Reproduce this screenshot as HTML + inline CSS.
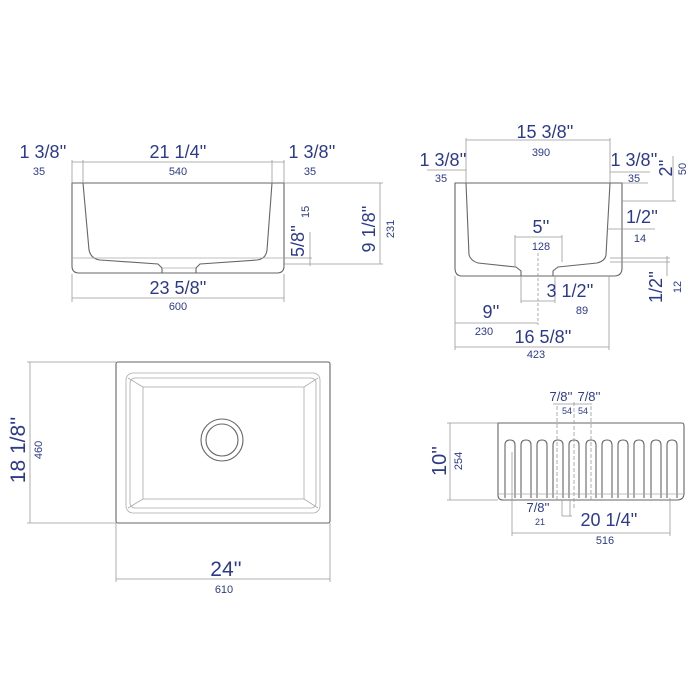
<!DOCTYPE html>
<html><head><meta charset="utf-8"><style>
html,body{margin:0;padding:0;background:#fff}
svg{display:block}
text{font-family:"Liberation Sans",sans-serif;fill:#2d3a8c}
.b{font-size:18px}
.s{font-size:11px}
.d{stroke:#999;stroke-width:0.8;fill:none}
.o{stroke:#666;stroke-width:1.1;fill:none}
.l{stroke:#aaa;stroke-width:0.8;fill:none}
</style></head><body>
<svg width="700" height="700" viewBox="0 0 700 700">
<!-- FRONT VIEW -->
<path class="o" d="M72 183 H284 V266 Q284 273 277 273 H79 Q72 273 72 266 Z"/>
<path class="o" d="M83 183 L89 250 Q91 259 100 260 L158 264 L162 268 V273 M196 273 V268 L200 264 L257 260 Q266 259 267 250 L272 183"/>
<line class="l" x1="72" y1="258" x2="284" y2="258"/>
<line class="l" x1="162" y1="268" x2="196" y2="268"/>
<g class="d">
<line x1="72" y1="162" x2="284" y2="162"/>
<line x1="72" y1="160" x2="72" y2="183"/><line x1="83" y1="160" x2="83" y2="183"/>
<line x1="272" y1="160" x2="272" y2="183"/><line x1="284" y1="160" x2="284" y2="183"/>
<line x1="284" y1="183" x2="383" y2="183"/><line x1="284" y1="264" x2="383" y2="264"/>
<line x1="380" y1="183" x2="380" y2="264"/>
<line x1="310" y1="232" x2="310" y2="266"/><line x1="284" y1="258" x2="312" y2="258"/>
<line x1="72" y1="274" x2="72" y2="302"/><line x1="284" y1="274" x2="284" y2="302"/>
<line x1="72" y1="298" x2="284" y2="298"/>
</g>
<text class="b" x="43" y="158" text-anchor="middle">1 3/8''</text>
<text class="s" x="39" y="175" text-anchor="middle">35</text>
<text class="b" x="178" y="158" text-anchor="middle">21 1/4''</text>
<text class="s" x="178" y="175" text-anchor="middle">540</text>
<text class="b" x="312" y="158" text-anchor="middle">1 3/8''</text>
<text class="s" x="310" y="175" text-anchor="middle">35</text>
<text class="b" transform="translate(375,229) rotate(-90)" text-anchor="middle">9 1/8''</text>
<text class="s" transform="translate(394,229) rotate(-90)" text-anchor="middle">231</text>
<text class="b" transform="translate(304,241) rotate(-90)" text-anchor="middle">5/8''</text>
<text class="s" transform="translate(309,218) rotate(-90)">15</text>
<text class="b" x="178" y="294" text-anchor="middle">23 5/8''</text>
<text class="s" x="178" y="310" text-anchor="middle">600</text>

<!-- SIDE VIEW -->
<path class="o" d="M455 183 H622 V268 Q622 276 614 276 H462 Q455 276 455 268 Z"/>
<path class="o" d="M466 183 L469 255 Q471 261 478 263 L516 267 L521 271 V276 M553 276 V271 L558 267 L597 263 Q605 261 606 255 L610 183"/>
<g class="d">
<line x1="466" y1="140" x2="610" y2="140"/><line x1="466" y1="138" x2="466" y2="183"/><line x1="610" y1="138" x2="610" y2="183"/>
<line x1="427" y1="170" x2="466" y2="170"/>
<line x1="610" y1="172" x2="650" y2="172"/>
<line x1="622" y1="183" x2="648" y2="183"/>
<line x1="622" y1="201" x2="676" y2="201"/><line x1="673" y1="156" x2="673" y2="201"/>
<line x1="607" y1="229" x2="655" y2="229"/>
<line x1="515" y1="237" x2="562" y2="237"/><line x1="515" y1="235" x2="515" y2="266"/><line x1="562" y1="235" x2="562" y2="262"/>
<line x1="610" y1="258" x2="670" y2="258"/><line x1="610" y1="262" x2="670" y2="262"/><line x1="667" y1="256" x2="667" y2="276"/>
<line x1="521" y1="276" x2="521" y2="303"/><line x1="555" y1="276" x2="555" y2="303"/><line x1="521" y1="301" x2="555" y2="301"/>
<line x1="538" y1="253" x2="538" y2="325" stroke-dasharray="3,2"/>
<line x1="455" y1="276" x2="455" y2="350"/><line x1="609" y1="276" x2="609" y2="350"/>
<line x1="455" y1="323" x2="538" y2="323"/>
<line x1="455" y1="347" x2="609" y2="347"/>
</g>
<text class="b" x="545" y="138" text-anchor="middle">15 3/8''</text>
<text class="s" x="541" y="156" text-anchor="middle">390</text>
<text class="b" x="443" y="166" text-anchor="middle">1 3/8''</text>
<text class="s" x="441" y="182" text-anchor="middle">35</text>
<text class="b" x="634" y="166" text-anchor="middle">1 3/8''</text>
<text class="s" x="634" y="182" text-anchor="middle">35</text>
<text class="b" transform="translate(672,168) rotate(-90)" text-anchor="middle">2''</text>
<text class="s" transform="translate(686,169) rotate(-90)" text-anchor="middle">50</text>
<text class="b" x="642" y="223" text-anchor="middle">1/2''</text>
<text class="s" x="640" y="242" text-anchor="middle">14</text>
<text class="b" x="541" y="233" text-anchor="middle">5''</text>
<text class="s" x="541" y="250" text-anchor="middle">128</text>
<text class="b" transform="translate(662,287) rotate(-90)" text-anchor="middle">1/2''</text>
<text class="s" transform="translate(681,287) rotate(-90)" text-anchor="middle">12</text>
<text class="b" x="570" y="297" text-anchor="middle">3 1/2''</text>
<text class="s" x="582" y="314" text-anchor="middle">89</text>
<text class="b" x="491" y="318" text-anchor="middle">9''</text>
<text class="s" x="484" y="335" text-anchor="middle">230</text>
<text class="b" x="543" y="343" text-anchor="middle">16 5/8''</text>
<text class="s" x="536" y="358" text-anchor="middle">423</text>

<!-- TOP VIEW -->
<rect class="o" x="116" y="362" width="214" height="161" rx="2"/>
<rect class="l" x="126" y="373" width="194" height="140" rx="7"/>
<rect class="l" x="130" y="378" width="186" height="130" rx="5"/>
<rect class="l" x="143" y="387" width="161" height="112"/>
<path class="l" d="M128 378 L143 387 M318 378 L304 387 M128 508 L143 499 M318 508 L304 499"/>
<circle class="o" cx="222" cy="440" r="21"/>
<circle class="o" cx="222" cy="440" r="16" stroke-width="1.5"/>
<g class="d">
<line x1="27" y1="362" x2="116" y2="362"/><line x1="27" y1="523" x2="116" y2="523"/>
<line x1="30" y1="362" x2="30" y2="523"/>
<line x1="116" y1="523" x2="116" y2="582"/><line x1="330" y1="523" x2="330" y2="582"/>
<line x1="116" y1="579" x2="330" y2="579"/>
</g>
<text style="font-size:21px" transform="translate(25,450) rotate(-90)" text-anchor="middle">18 1/8''</text>
<text class="s" transform="translate(42,450) rotate(-90)" text-anchor="middle">460</text>
<text style="font-size:21px" x="226" y="576" text-anchor="middle">24''</text>
<text class="s" x="224" y="593" text-anchor="middle">610</text>

<!-- APRON VIEW -->
<path class="o" d="M498 423 H682 Q684 423 684 426 V493 Q684 500 677 500 H503 Q498 500 498 495 Z"/>
<g class="o" stroke-width="0.9">
<path d="M505 498 V445 Q505 440 510 440 Q515 440 515 445 V498"/>
<path d="M521 498 V445 Q521 440 526 440 Q531 440 531 445 V498"/>
<path d="M537 498 V445 Q537 440 542 440 Q547 440 547 445 V498"/>
<path d="M553 498 V445 Q553 440 558 440 Q563 440 563 445 V498"/>
<path d="M569 498 V445 Q569 440 574 440 Q579 440 579 445 V498"/>
<path d="M586 498 V445 Q586 440 591 440 Q596 440 596 445 V498"/>
<path d="M602 498 V445 Q602 440 607 440 Q612 440 612 445 V498"/>
<path d="M618 498 V445 Q618 440 623 440 Q628 440 628 445 V498"/>
<path d="M634 498 V445 Q634 440 639 440 Q644 440 644 445 V498"/>
<path d="M651 498 V445 Q651 440 656 440 Q661 440 661 445 V498"/>
<path d="M667 498 V445 Q667 440 672 440 Q677 440 677 445 V498"/>
</g>
<line class="l" x1="498" y1="494" x2="684" y2="494"/>
<g class="d">
<line x1="447" y1="423" x2="498" y2="423"/><line x1="447" y1="500" x2="498" y2="500"/>
<line x1="450" y1="423" x2="450" y2="500"/>
<line x1="553" y1="404" x2="592" y2="404"/>
<line x1="557" y1="406" x2="557" y2="500" stroke-dasharray="4,2"/>
<line x1="574" y1="402" x2="574" y2="508" stroke-dasharray="4,2"/>
<line x1="591" y1="406" x2="591" y2="500" stroke-dasharray="4,2"/>
<line x1="562" y1="500" x2="562" y2="516"/><line x1="570" y1="500" x2="570" y2="516"/>
<line x1="562" y1="516" x2="572" y2="516"/>
<line x1="512" y1="452" x2="512" y2="536"/><line x1="670" y1="498" x2="670" y2="536"/>
<line x1="512" y1="533" x2="670" y2="533"/>
</g>
<text class="b" transform="translate(446,461) rotate(-90)" text-anchor="middle" style="font-size:20px">10''</text>
<text class="s" transform="translate(462,461) rotate(-90)" text-anchor="middle">254</text>
<text class="s" style="font-size:13px" x="561" y="401" text-anchor="middle">7/8''</text>
<text class="s" style="font-size:13px" x="589" y="401" text-anchor="middle">7/8''</text>
<text class="s" style="font-size:9px" x="567" y="414" text-anchor="middle">54</text>
<text class="s" style="font-size:9px" x="583" y="414" text-anchor="middle">54</text>
<text class="s" style="font-size:13px" x="538" y="512" text-anchor="middle">7/8''</text>
<text class="s" style="font-size:9px" x="540" y="525" text-anchor="middle">21</text>
<text class="b" x="609" y="526" text-anchor="middle">20 1/4''</text>
<text class="s" x="605" y="544" text-anchor="middle">516</text>
</svg>
</body></html>
